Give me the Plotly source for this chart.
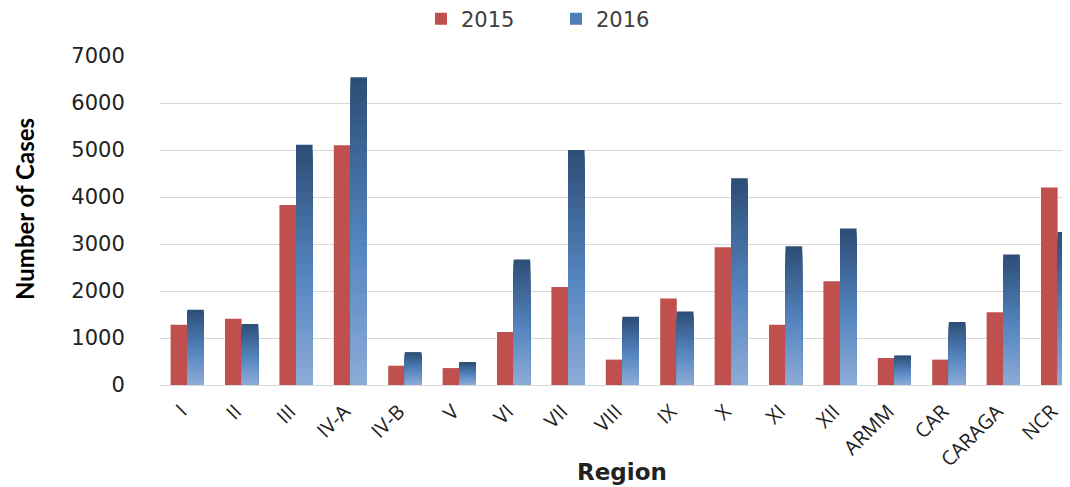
import plotly.graph_objects as go

regions = ["I", "II", "III", "IV-A", "IV-B", "V", "VI", "VII", "VIII", "IX", "X",
           "XI", "XII", "ARMM", "CAR", "CARAGA", "NCR"]
cases_2015 = [1280, 1410, 3830, 5100, 410, 360, 1130, 2085, 540, 1840, 2930,
              1280, 2210, 575, 540, 1550, 4200]
cases_2016 = [1600, 1300, 5110, 6550, 700, 490, 2670, 5000, 1450, 1565, 4400,
              2950, 3330, 630, 1340, 2775, 3255]
y_ticks = [0, 1000, 2000, 3000, 4000, 5000, 6000, 7000]

RED = "#C0504D"
TOP = (44, 77, 117)
MID = (85, 133, 192)
BOT = (141, 172, 216)


def grad_color(t):
    # t: 0 at bottom, 1 at top
    if t < 0.45:
        a, b, f = BOT, MID, t / 0.45
    else:
        a, b, f = MID, TOP, (t - 0.45) / 0.55
    c = [round(a[i] + (b[i] - a[i]) * f) for i in range(3)]
    return f"rgb({c[0]},{c[1]},{c[2]})"


fig = go.Figure()
fig.add_trace(go.Bar(x=regions, y=cases_2015, name="2015", marker_color=RED,
                     offsetgroup="a", marker_line_width=0))

# 2016 bars drawn as nested layers (tallest/darkest first) to give a vertical gradient
N = 40
for k in range(N - 1, -1, -1):
    frac = (k + 1) / N
    fig.add_trace(go.Bar(
        x=regions,
        y=[v * frac for v in cases_2016],
        name="2016",
        marker_color=grad_color((k + 0.5) / N),
        marker_line_width=0,
        offsetgroup="b",
        showlegend=(k == N // 2),
        legendgroup="2016",
        hoverinfo="skip" if k != N - 1 else None,
    ))

# page has an 8px body margin; work in page coordinates and subtract it
OFF = 8
W, H = 1070, 487 - OFF
L, T = 160 - OFF, 56 - OFF
B = H - (385 - OFF)
PW, PH = W - L, H - T - B
CAT_PX = 54.4  # pixels per category in the reference


def px_x(p):
    return (p - OFF - L) / PW


def px_y(p):
    return (H - B - (p - OFF)) / PH


fig.update_layout(
    width=W, height=H,
    margin=dict(l=L, r=0, t=T, b=B, pad=0, autoexpand=False),
    plot_bgcolor="white", paper_bgcolor="white",
    barmode="group", bargap=0.39, bargroupgap=0,
    showlegend=True,
    legend=dict(orientation="h", x=px_x(556), xanchor="center",
                y=px_y(19), yanchor="middle",
                font=dict(family="DejaVu Sans", size=21, color="#404040"),
                entrywidth=90, traceorder="normal"),
    xaxis=dict(range=[-0.5, -0.5 + PW / CAT_PX], tickangle=-45,
               tickfont=dict(family="Open Sans", size=20, color="#222"),
               ticks="outside", ticklen=6, tickcolor="rgba(0,0,0,0)",
               ticklabelshift=-6,
               showgrid=False, showline=False, zeroline=False),
    yaxis=dict(range=[0, 7000], tickvals=y_ticks,
               tickfont=dict(family="DejaVu Sans", size=21, color="#222"),
               ticks="outside", ticklen=30, tickcolor="rgba(0,0,0,0)",
               showgrid=True, gridcolor="#D9D9D9", gridwidth=1,
               zeroline=True, zerolinecolor="#D9D9D9", zerolinewidth=1,
               showline=False),
    annotations=[
        dict(text="<b>Number of Cases</b>", xref="paper", yref="paper",
             x=px_x(24), y=px_y(209), xanchor="center", yanchor="middle",
             textangle=-90, showarrow=False,
             font=dict(family="Lato", size=24, color="#000")),
        dict(text="<b>Region</b>", xref="paper", yref="paper",
             x=px_x(622), y=px_y(472), xanchor="center", yanchor="middle",
             showarrow=False,
             font=dict(family="DejaVu Sans", size=23, color="#222")),
    ],
)

fig.write_html("out.html")
